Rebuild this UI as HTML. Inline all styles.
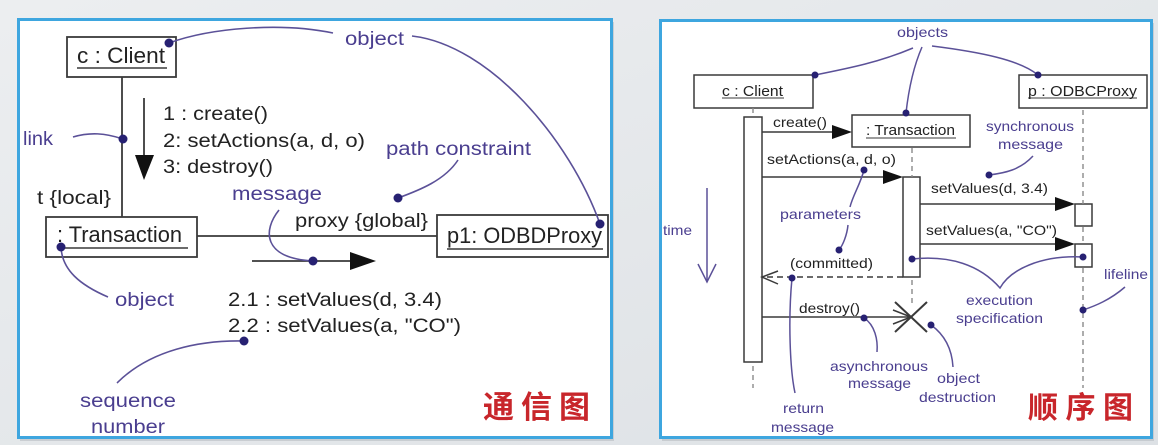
<!DOCTYPE html>
<html><head><meta charset="utf-8"><style>
html,body{margin:0;padding:0;width:1158px;height:445px;overflow:hidden;background:#e5e8eb;}
svg{display:block}
text{font-family:"Liberation Sans","Noto Sans CJK SC",sans-serif;}
</style></head><body>
<svg width="1158" height="445" viewBox="0 0 1158 445" xmlns="http://www.w3.org/2000/svg">
<defs>
<linearGradient id="bg" x1="0" y1="0" x2="1" y2="1">
<stop offset="0" stop-color="#eceef0"/><stop offset="1" stop-color="#dde1e5"/>
</linearGradient>
</defs>
<rect x="0" y="0" width="1158" height="445" fill="url(#bg)"/>
<!-- panels shadows -->
<rect x="20" y="22" width="594" height="419" fill="#b8bcc2" opacity="0.6"/>
<rect x="662" y="23" width="492" height="418" fill="#b8bcc2" opacity="0.6"/>
<!-- panels -->
<rect x="18.5" y="19.5" width="593" height="418" fill="#fff" stroke="#3ea6df" stroke-width="3"/>
<rect x="660.5" y="20.5" width="491" height="417" fill="#fff" stroke="#3ea6df" stroke-width="3"/>

<!-- ============ LEFT PANEL ============ -->
<g stroke="#3a3a3a" stroke-width="1.8" fill="none">
<rect x="67" y="37" width="109" height="40"/>
<rect x="46" y="217" width="151" height="40"/>
<rect x="437" y="215" width="171" height="42"/>
<line x1="122" y1="77" x2="122" y2="217"/>
<line x1="197" y1="236" x2="437" y2="236"/>
<line x1="144" y1="98" x2="144" y2="160"/>
<line x1="252" y1="261" x2="352" y2="261"/>
<line x1="77" y1="68" x2="167" y2="68" stroke-width="1.4"/>
<line x1="57" y1="248" x2="188" y2="248" stroke-width="1.4"/>
<line x1="447" y1="249" x2="603" y2="249" stroke-width="1.4"/>
</g>
<polygon points="135,155 154,155 144,180" fill="#111"/>
<polygon points="350,252 376,261 350,270" fill="#111"/>

<g fill="#222" font-size="22">
<text x="77" y="63" textLength="88" lengthAdjust="spacingAndGlyphs">c : Client</text>
<text x="57" y="242" textLength="125" lengthAdjust="spacingAndGlyphs">: Transaction</text>
<text x="447" y="243" textLength="155" lengthAdjust="spacingAndGlyphs">p1: ODBDProxy</text>
</g>
<g fill="#222" font-size="19">
<text x="163" y="120" textLength="105" lengthAdjust="spacingAndGlyphs">1 : create()</text>
<text x="163" y="147" textLength="202" lengthAdjust="spacingAndGlyphs">2: setActions(a, d, o)</text>
<text x="163" y="173" textLength="110" lengthAdjust="spacingAndGlyphs">3: destroy()</text>
<text x="37" y="204" textLength="74" lengthAdjust="spacingAndGlyphs">t {local}</text>
<text x="295" y="227" textLength="133" lengthAdjust="spacingAndGlyphs">proxy {global}</text>
<text x="228" y="306" textLength="214" lengthAdjust="spacingAndGlyphs">2.1 : setValues(d, 3.4)</text>
<text x="228" y="332" textLength="233" lengthAdjust="spacingAndGlyphs">2.2 : setValues(a, "CO")</text>
</g>
<g fill="#4a3e8f" font-size="19">
<text x="345" y="45" textLength="59" lengthAdjust="spacingAndGlyphs">object</text>
<text x="23" y="145" textLength="30" lengthAdjust="spacingAndGlyphs">link</text>
<text x="386" y="155" textLength="145" lengthAdjust="spacingAndGlyphs">path constraint</text>
<text x="232" y="200" textLength="90" lengthAdjust="spacingAndGlyphs">message</text>
<text x="115" y="306" textLength="59" lengthAdjust="spacingAndGlyphs">object</text>
<text x="80" y="407" textLength="96" lengthAdjust="spacingAndGlyphs">sequence</text>
<text x="91" y="433" textLength="74" lengthAdjust="spacingAndGlyphs">number</text>
</g>
<g stroke="#5b5198" stroke-width="1.6" fill="none">
<path d="M169,43 C210,28 280,22 333,33"/>
<path d="M412,36 C490,45 570,140 600,224"/>
<path d="M73,137 C90,132 105,133 123,139"/>
<path d="M458,160 C445,180 420,190 398,198"/>
<path d="M279,210 C263,230 262,258 313,261"/>
<path d="M108,297 C80,285 62,270 61,247"/>
<path d="M117,383 C150,350 200,340 244,341"/>
</g>
<g fill="#272172">
<circle cx="169" cy="43" r="4.5"/>
<circle cx="123" cy="139" r="4.5"/>
<circle cx="398" cy="198" r="4.5"/>
<circle cx="313" cy="261" r="4.5"/>
<circle cx="61" cy="247" r="4.5"/>
<circle cx="244" cy="341" r="4.5"/>
<circle cx="600" cy="224" r="4.5"/>
</g>
<text x="483" y="418" font-size="31" font-weight="bold" fill="#c8262b" textLength="107" lengthAdjust="spacing" style="font-family:'Noto Sans CJK SC','WenQuanYi Zen Hei',sans-serif">通信图</text>

<!-- ============ RIGHT PANEL ============ -->
<g stroke="#3a3a3a" stroke-width="1.5" fill="none">
<rect x="694" y="75" width="119" height="33"/>
<rect x="1019" y="75" width="128" height="33"/>
<rect x="852" y="115" width="118" height="32"/>
<rect x="744" y="117" width="18" height="245" fill="#fff"/>
<rect x="903" y="177" width="17" height="100" fill="#fff"/>
<rect x="1075" y="204" width="17" height="22" fill="#fff"/>
<rect x="1075" y="244" width="17" height="23" fill="#fff"/>
<line x1="762" y1="132" x2="834" y2="132"/>
<line x1="762" y1="177" x2="885" y2="177"/>
<line x1="920" y1="204" x2="1057" y2="204"/>
<line x1="920" y1="244" x2="1057" y2="244"/>
<line x1="762" y1="317" x2="911" y2="317"/>
<polyline points="893,310 911,317 893,324"/>
<polyline points="778,271 762,277 778,284"/>
<line x1="903" y1="277" x2="764" y2="277" stroke-dasharray="6,4"/>
<line x1="895" y1="302" x2="927" y2="332" stroke-width="2"/>
<line x1="927" y1="302" x2="895" y2="332" stroke-width="2"/>
<line x1="722" y1="98" x2="784" y2="98" stroke-width="1"/>
<line x1="1028" y1="98" x2="1137" y2="98" stroke-width="1"/>
<line x1="866" y1="138" x2="956" y2="138" stroke-width="1"/>
</g>
<g stroke="#8a8a8a" stroke-width="1.4" stroke-dasharray="5,4" fill="none">
<line x1="753" y1="108" x2="753" y2="117"/>
<line x1="753" y1="366" x2="753" y2="388"/>
<line x1="912" y1="148" x2="912" y2="177"/>
<line x1="912" y1="280" x2="912" y2="303"/>
<line x1="1083" y1="110" x2="1083" y2="204"/>
<line x1="1083" y1="227" x2="1083" y2="244"/>
<line x1="1083" y1="268" x2="1083" y2="388"/>
</g>
<polygon points="832,125 852,132 832,139" fill="#111"/>
<polygon points="883,170 903,177 883,184" fill="#111"/>
<polygon points="1055,197 1075,204 1055,211" fill="#111"/>
<polygon points="1055,237 1075,244 1055,251" fill="#111"/>

<g fill="#222" font-size="15">
<text x="722" y="96" textLength="61" lengthAdjust="spacingAndGlyphs">c : Client</text>
<text x="1028" y="96" textLength="109" lengthAdjust="spacingAndGlyphs">p : ODBCProxy</text>
<text x="866" y="135" textLength="89" lengthAdjust="spacingAndGlyphs">: Transaction</text>
</g>
<g fill="#222" font-size="14">
<text x="773" y="127" textLength="54" lengthAdjust="spacingAndGlyphs">create()</text>
<text x="767" y="164" textLength="129" lengthAdjust="spacingAndGlyphs">setActions(a, d, o)</text>
<text x="931" y="193" textLength="117" lengthAdjust="spacingAndGlyphs">setValues(d, 3.4)</text>
<text x="926" y="235" textLength="131" lengthAdjust="spacingAndGlyphs">setValues(a, "CO")</text>
<text x="790" y="268" textLength="83" lengthAdjust="spacingAndGlyphs">(committed)</text>
<text x="799" y="313" textLength="61" lengthAdjust="spacingAndGlyphs">destroy()</text>
</g>
<g fill="#4a3e8f" font-size="14">
<text x="897" y="37" textLength="51" lengthAdjust="spacingAndGlyphs">objects</text>
<text x="986" y="131" textLength="88" lengthAdjust="spacingAndGlyphs">synchronous</text>
<text x="998" y="149" textLength="65" lengthAdjust="spacingAndGlyphs">message</text>
<text x="780" y="219" textLength="81" lengthAdjust="spacingAndGlyphs">parameters</text>
<text x="663" y="235" textLength="29" lengthAdjust="spacingAndGlyphs">time</text>
<text x="1104" y="279" textLength="44" lengthAdjust="spacingAndGlyphs">lifeline</text>
<text x="966" y="305" textLength="67" lengthAdjust="spacingAndGlyphs">execution</text>
<text x="956" y="323" textLength="87" lengthAdjust="spacingAndGlyphs">specification</text>
<text x="830" y="371" textLength="98" lengthAdjust="spacingAndGlyphs">asynchronous</text>
<text x="848" y="388" textLength="63" lengthAdjust="spacingAndGlyphs">message</text>
<text x="937" y="383" textLength="43" lengthAdjust="spacingAndGlyphs">object</text>
<text x="919" y="402" textLength="77" lengthAdjust="spacingAndGlyphs">destruction</text>
<text x="783" y="413" textLength="41" lengthAdjust="spacingAndGlyphs">return</text>
<text x="771" y="432" textLength="63" lengthAdjust="spacingAndGlyphs">message</text>
</g>
<g stroke="#5b5198" stroke-width="1.5" fill="none">
<path d="M913,48 C880,62 850,68 815,75"/>
<path d="M922,47 C912,70 908,95 906,113"/>
<path d="M932,46 C980,52 1020,60 1038,75"/>
<path d="M1033,156 C1020,170 1005,173 989,175"/>
<path d="M864,170 C860,185 853,195 850,207"/>
<path d="M848,225 C847,235 843,245 839,250"/>
<path d="M792,278 C788,320 790,370 795,393"/>
<line x1="707" y1="188" x2="707" y2="282"/>
<polyline points="698,264 707,282 716,264"/>
<path d="M912,259 C950,255 980,265 1000,288 C1010,270 1040,255 1083,257"/>
<path d="M1125,287 C1110,300 1095,306 1083,310"/>
<path d="M864,318 C875,325 878,340 877,352"/>
<path d="M931,325 C945,335 952,350 953,367"/>
</g>
<g fill="#272172">
<circle cx="815" cy="75" r="3.5"/>
<circle cx="906" cy="113" r="3.5"/>
<circle cx="1038" cy="75" r="3.5"/>
<circle cx="864" cy="170" r="3.5"/>
<circle cx="839" cy="250" r="3.5"/>
<circle cx="989" cy="175" r="3.5"/>
<circle cx="912" cy="259" r="3.5"/>
<circle cx="1083" cy="257" r="3.5"/>
<circle cx="792" cy="278" r="3.5"/>
<circle cx="1083" cy="310" r="3.5"/>
<circle cx="864" cy="318" r="3.5"/>
<circle cx="931" cy="325" r="3.5"/>
</g>
<text x="1028" y="418" font-size="30" font-weight="bold" fill="#c8262b" textLength="105" lengthAdjust="spacing" style="font-family:'Noto Sans CJK SC','WenQuanYi Zen Hei',sans-serif">顺序图</text>
</svg>
</body></html>
